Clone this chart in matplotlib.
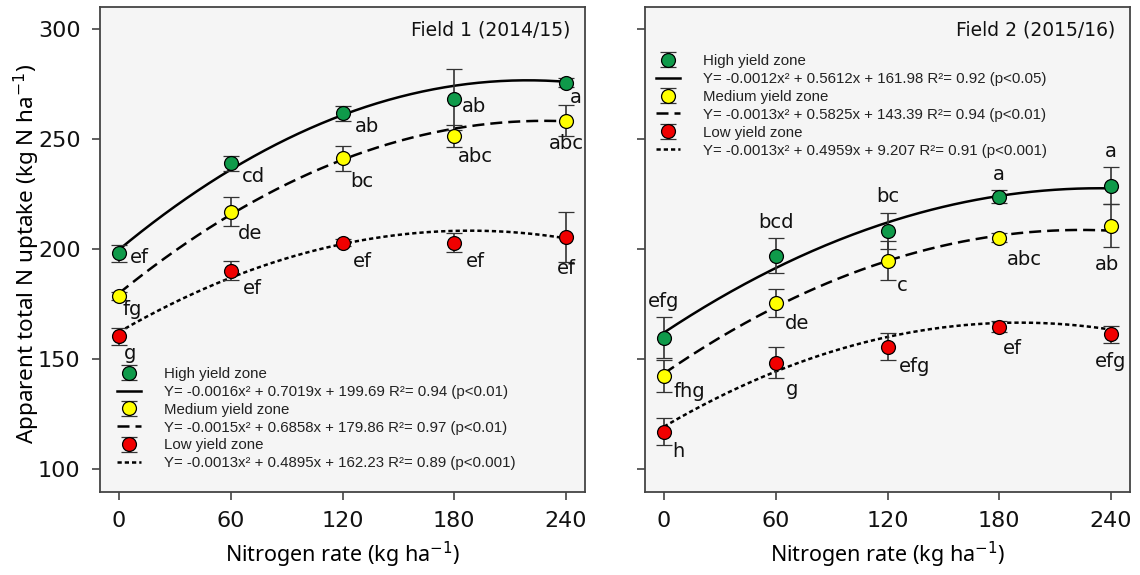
import numpy as np
import matplotlib
matplotlib.use("Agg")
import matplotlib.pyplot as plt
from matplotlib.lines import Line2D

# N rates and mean apparent N uptake per yield zone
rates = [0, 60, 120, 180, 240]

f1_high = [198.0, 238.9, 261.7, 268.0, 275.5]
f1_high_se = [4.0, 3.3, 3.5, 14.0, 2.0]
f1_med = [178.6, 217.0, 241.2, 251.4, 258.3]
f1_med_se = [2.0, 6.4, 5.8, 5.0, 7.0]
f1_low = [160.3, 190.2, 202.9, 202.9, 205.6]
f1_low_se = [3.8, 4.3, 1.5, 4.4, 11.4]

f2_high = [159.7, 196.9, 208.2, 223.8, 228.8]
f2_high_se = [9.2, 8.0, 8.2, 3.0, 8.5]
f2_med = [142.3, 175.3, 194.7, 205.1, 210.6]
f2_med_se = [7.2, 6.3, 8.7, 2.0, 9.8]
f2_low = [117.0, 148.3, 155.6, 164.7, 161.2]
f2_low_se = [6.0, 7.0, 6.2, 2.5, 3.8]

# quadratic fits (a, b, c) as drawn
f1_fit = [(-0.0016, 0.7019, 199.69), (-0.0015, 0.6858, 179.86), (-0.0013, 0.4895, 162.23)]
f2_fit = [(-0.0012, 0.5612, 161.98), (-0.0013, 0.5825, 143.39), (-0.0013, 0.4959, 119.207)]

f1_eq = [
    "Y= -0.0016x² + 0.7019x + 199.69 R²= 0.94 (p<0.01)",
    "Y= -0.0015x² + 0.6858x + 179.86 R²= 0.97 (p<0.01)",
    "Y= -0.0013x² + 0.4895x + 162.23 R²= 0.89 (p<0.001)",
]
f2_eq = [
    "Y= -0.0012x² + 0.5612x + 161.98 R²= 0.92 (p<0.05)",
    "Y= -0.0013x² + 0.5825x + 143.39 R²= 0.94 (p<0.01)",
    "Y= -0.0013x² + 0.4959x + 9.207 R²= 0.91 (p<0.001)",
]

# mean separation letters
f1_letters = [["ef", "cd", "ab", "ab", "a"],
              ["fg", "de", "bc", "abc", "abc"],
              ["g", "ef", "ef", "ef", "ef"]]
f2_letters = [["efg", "bcd", "bc", "a", "a"],
              ["fhg", "de", "c", "abc", "ab"],
              ["h", "g", "efg", "ef", "efg"]]

# letter offsets in pixels (dx, dy, ha)
f1_offsets = [[(11, -4, "left"), (11, -13, "left"), (12, -13, "left"), (8, -7, "left"), (4, -15, "left")],
              [(4, -13, "left"), (7, -22, "left"), (8, -23, "left"), (4, -21, "left"), (0, -23, "center")],
              [(5, -17, "left"), (12, -18, "left"), (10, -19, "left"), (12, -19, "left"), (0, -32, "center")]]
f2_offsets = [[(0, 36, "center"), (0, 33, "center"), (0, 34, "center"), (0, 22, "center"), (0, 34, "center")],
              [(10, -16, "left"), (9, -20, "left"), (9, -25, "left"), (8, -22, "left"), (-4, -39, "center")],
              [(8, -20, "left"), (10, -27, "left"), (11, -20, "left"), (4, -22, "left"), (0, -27, "center")]]

zones = ["High yield zone", "Medium yield zone", "Low yield zone"]
colors = ["#0f9a4a", "#ffff00", "#f00000"]
styles = ["-", (0, (4.8, 2.4)), (0, (1.7, 1.2))]

plt.rcParams["font.family"] = "DejaVu Sans"

fig = plt.figure(figsize=(11.4, 5.75), dpi=100)
ax1 = fig.add_axes([100 / 1140, 83 / 575, 485 / 1140, 485 / 575])
ax2 = fig.add_axes([645 / 1140, 83 / 575, 485 / 1140, 485 / 575])


def draw_panel(ax, means, ses, fits, eqs, letters, offsets, title, leg_anchor):
    ax.set_facecolor("#f5f5f5")
    xs = np.linspace(0, 240, 200)
    handles, labels = [], []
    for i in range(3):
        a, b, c = fits[i]
        ax.plot(xs, a * xs ** 2 + b * xs + c, color="black", lw=1.8,
                linestyle=styles[i], zorder=2)
        eb = ax.errorbar(rates, means[i], yerr=ses[i], fmt="o", ms=10,
                         mfc=colors[i], mec="black", mew=0.9, ecolor="#333333",
                         elinewidth=1.2, capsize=5.5, capthick=1.2, zorder=3)
        for x, y, t, (dx, dy, ha) in zip(rates, means[i], letters[i], offsets[i]):
            ax.annotate(t, (x, y), xytext=(dx, dy), textcoords="offset pixels",
                        ha=ha, va="center", fontsize=14, color="#111111")
        handles += [eb, Line2D([], [], color="black", lw=1.8, linestyle=styles[i])]
        labels += [zones[i], eqs[i]]

    ax.legend(handles, labels, loc="upper left", bbox_to_anchor=leg_anchor,
              frameon=False, prop={"family": "Liberation Sans", "size": 10.8},
              handlelength=1.6, handletextpad=1.5, labelspacing=0.26,
              borderpad=0, borderaxespad=0, labelcolor="#222222")

    ax.text(0.969, 0.953, title, transform=ax.transAxes, ha="right", va="center",
            fontsize=13.5, color="#111111")

    ax.set_xlim(-10.2, 250.2)
    ax.set_ylim(89.5, 310)
    ax.set_xticks(rates)
    ax.set_yticks([100, 150, 200, 250, 300])
    ax.tick_params(direction="out", length=6, width=1.2, color="#444444",
                   labelsize=16, pad=8, labelcolor="#111111")
    for s in ax.spines.values():
        s.set_color("#444444")
        s.set_linewidth(1.3)
    ax.set_xlabel("Nitrogen rate (kg ha$^{-1}$)", fontsize=15.5, labelpad=6,
                  family="Noto Sans")


draw_panel(ax1, [f1_high, f1_med, f1_low], [f1_high_se, f1_med_se, f1_low_se],
           f1_fit, f1_eq, f1_letters, f1_offsets, "Field 1 (2014/15)", (0.036, 0.258))
draw_panel(ax2, [f2_high, f2_med, f2_low], [f2_high_se, f2_med_se, f2_low_se],
           f2_fit, f2_eq, f2_letters, f2_offsets, "Field 2 (2015/16)", (0.023, 0.903))

ax2.tick_params(axis="y", labelleft=False)
ax1.set_ylabel("Apparent total N uptake (kg N ha$^{-1}$)", fontsize=16.2, labelpad=6,
               family="Noto Sans")
ax1.yaxis.set_label_coords(-0.12, 0.49)

fig.savefig("out.png", dpi=100, facecolor="white")
